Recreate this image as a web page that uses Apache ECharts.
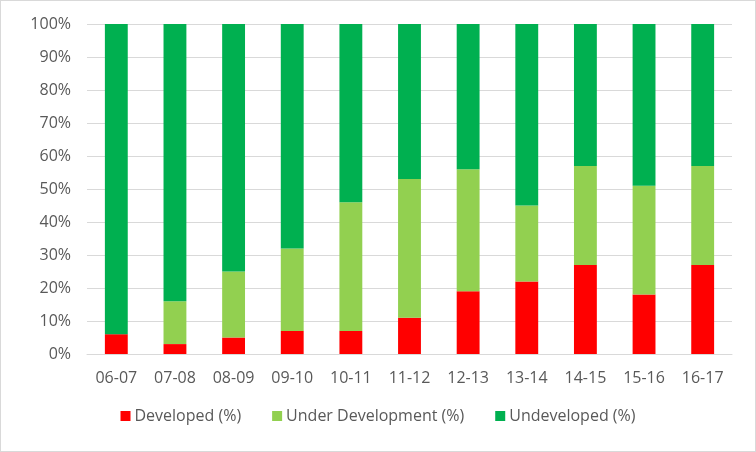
<!DOCTYPE html>
<html><head><meta charset="utf-8">
<script src="https://cdn.jsdelivr.net/npm/echarts@6/dist/echarts.min.js"></script>
<style>html,body{margin:0;padding:0;background:#fff}#c{width:756px;height:452px;box-sizing:border-box;border:1px solid #d9d9d9}</style>
</head><body><div id="c"></div>
<script>
const categories = ['06-07','07-08','08-09','09-10','10-11','11-12','12-13','13-14','14-15','15-16','16-17'];
const developed = [6,3,5,7,7,11,19,22,27,18,27];
const underDevelopment = [0,13,20,25,39,42,37,23,30,33,30];
const undeveloped = [94,84,75,68,54,47,44,55,43,49,43];
const yTicks = [0,10,20,30,40,50,60,70,80,90,100];

const chart = echarts.init(document.getElementById('c'), null, {renderer:'canvas'});
const font = 'Open Sans';
const mk = (name, data, color) => ({name, type:'bar', stack:'s', data, barWidth:'39%', itemStyle:{color}});
chart.setOption({
  animation:false,
  textStyle:{fontFamily:font},
  grid:{left:86,right:23,top:23,bottom:97},
  legend:{bottom:22,left:'center',itemWidth:10,itemHeight:10,itemGap:31,icon:'rect',
    textStyle:{color:'#595959',fontSize:16,fontFamily:font,padding:[0,0,0,-1]}},
  xAxis:{type:'category',data:categories,
    axisLine:{lineStyle:{color:'#d9d9d9',width:1}},axisTick:{show:false},
    axisLabel:{color:'#595959',fontSize:16,margin:16}},
  yAxis:{type:'value',min:0,max:100,interval:10,
    axisLine:{show:false},axisTick:{show:false},
    splitLine:{lineStyle:{color:'#d9d9d9',width:1}},
    axisLabel:{color:'#595959',fontSize:16,margin:16,formatter:v=>yTicks.includes(v)?v+'%':''}},
  series:[mk('Developed (%)',developed,'#ff0000'),mk('Under Development (%)',underDevelopment,'#92d050'),mk('Undeveloped (%)',undeveloped,'#00b050')]
});
</script></body></html>
